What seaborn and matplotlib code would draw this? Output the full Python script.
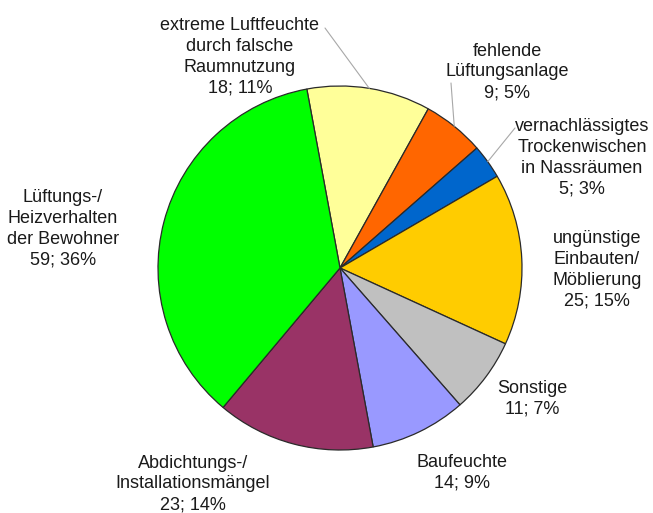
import numpy as np
import matplotlib
matplotlib.use("Agg")
import matplotlib.pyplot as plt
import seaborn as sns

# ---- data (clockwise from top) ----
categories = [
    "extreme Luftfeuchte\ndurch falsche\nRaumnutzung",
    "fehlende\nLüftungsanlage",
    "vernachlässigtes\nTrockenwischen\nin Nassräumen",
    "ungünstige\nEinbauten/\nMöblierung",
    "Sonstige",
    "Baufeuchte",
    "Abdichtungs-/\nInstallationsmängel",
    "Lüftungs-/\nHeizverhalten\nder Bewohner",
]
counts = [18, 9, 5, 25, 11, 14, 23, 59]
percents = [11, 5, 3, 15, 7, 9, 14, 36]

colors = ["#FFFF99", "#FF6600", "#0066CC", "#FFCC00",
          "#C0C0C0", "#9999FF", "#993366", "#00FF00"]

# ---- layout (pixel space, y measured from top) ----
W, H = 653, 513
center_px = (340, 268)
radius_px = 182
label_pos = [(240, 57), (507, 72), (582, 158), (597, 270),
             (532, 399), (462, 473), (193, 484), (63, 229)]
leader_start = {0: (325, 28), 1: (451, 83), 2: (515, 128)}

sns.set_theme(style="white")
plt.rcParams["font.family"] = ["Liberation Sans", "DejaVu Sans"]

fig = plt.figure(figsize=(W / 100, H / 100), dpi=100)
ax = fig.add_axes([0, 0, 1, 1])
pal = sns.color_palette(colors)

cx, cy = center_px[0], H - center_px[1]
wedges, _ = ax.pie(counts, colors=pal, startangle=100.5, counterclock=False,
                   center=(cx, cy), radius=radius_px,
                   wedgeprops=dict(edgecolor="#2a2a2a", linewidth=0.9))
ax.set_xlim(0, W)
ax.set_ylim(0, H)
ax.set_aspect("equal")
ax.axis("off")

for i, (cat, c, p) in enumerate(zip(categories, counts, percents)):
    lx, ly = label_pos[i]
    ax.text(lx, H - ly, f"{cat}\n{c}; {p}%", ha="center", va="center",
            fontsize=13, color="#1a1a1a", linespacing=1.3)
    if i in leader_start:
        w = wedges[i]
        mid = np.deg2rad((w.theta1 + w.theta2) / 2)
        ex = cx + radius_px * np.cos(mid)
        ey = cy + radius_px * np.sin(mid)
        sx, sy = leader_start[i]
        ax.plot([sx, ex], [H - sy, ey], color="#a8a8a8", lw=0.8)

fig.savefig("out.png", dpi=100, facecolor="white")
